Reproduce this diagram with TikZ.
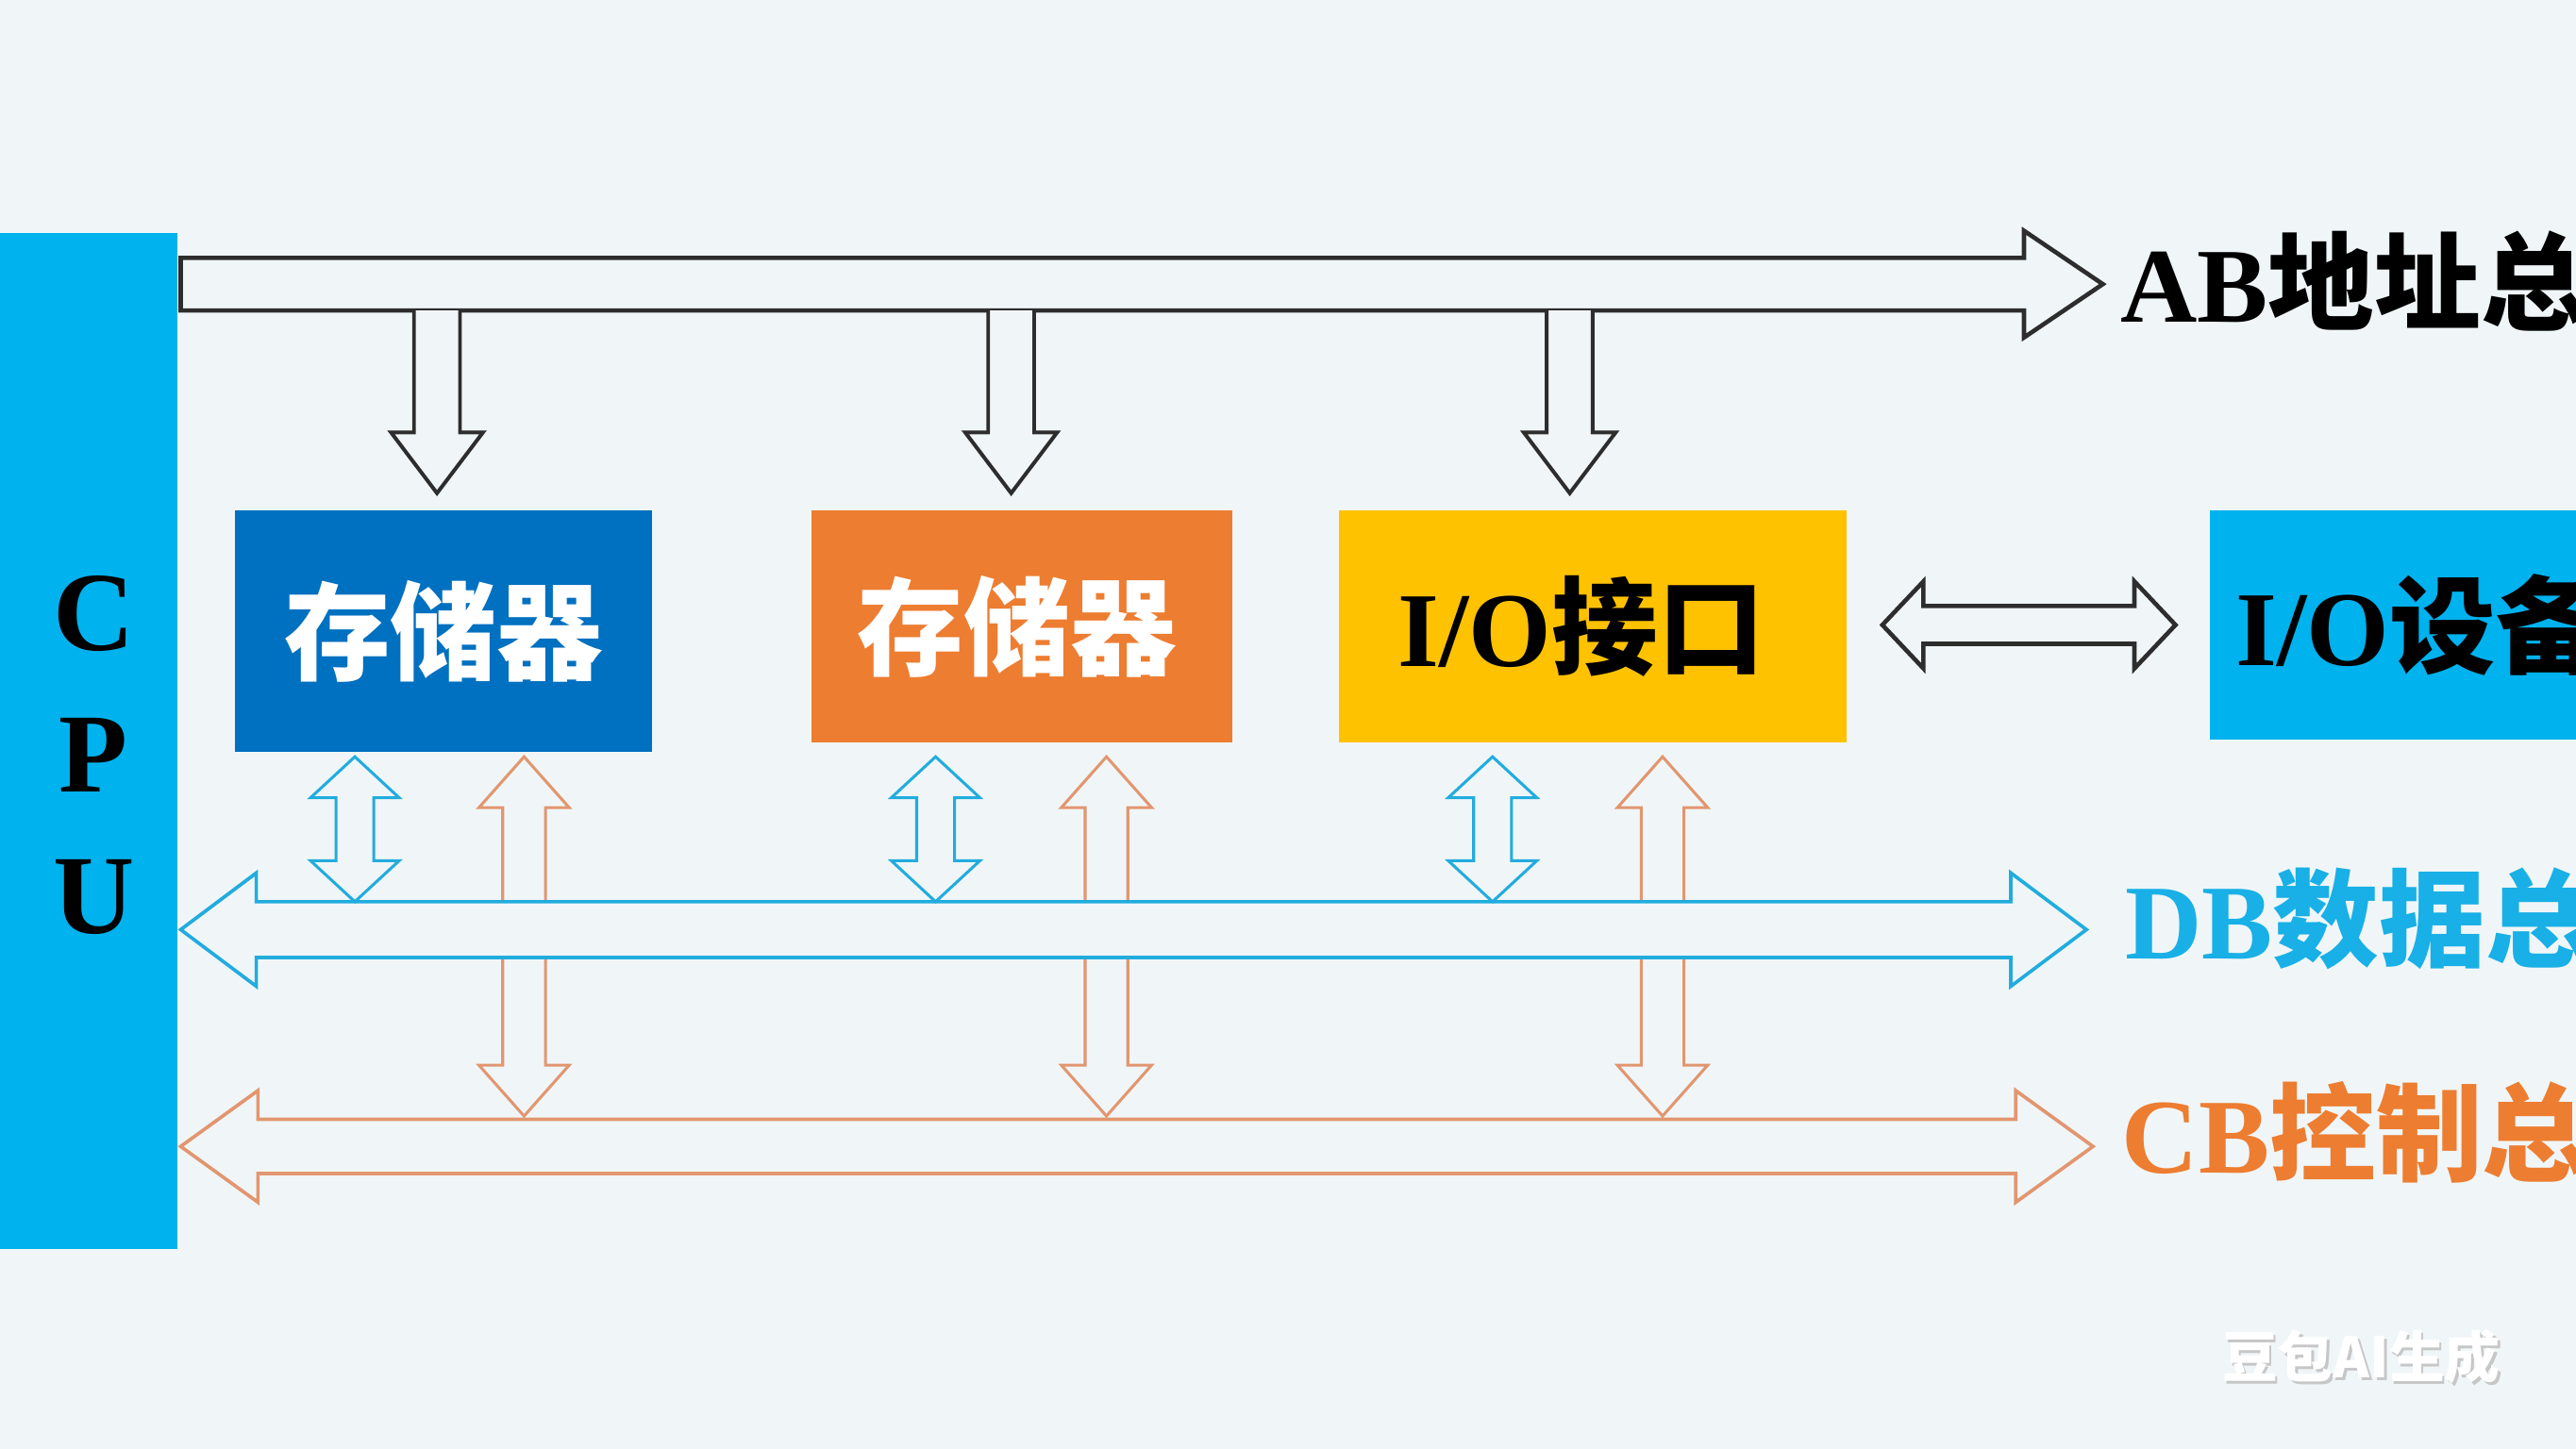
\documentclass[tikz,border=0pt]{standalone}
\usepackage{fontspec}
\setmainfont{Liberation Serif}
\newfontfamily\cjk{Noto Sans CJK SC}
\usetikzlibrary{calc}
\definecolor{bgW}{RGB}{240,246,248}
\definecolor{cpuC}{RGB}{0,178,238}
\definecolor{memB}{RGB}{0,112,192}
\definecolor{memO}{RGB}{237,125,49}
\definecolor{ioY}{RGB}{255,194,0}
\definecolor{abK}{RGB}{45,45,45}
\definecolor{dbC}{RGB}{34,172,222}
\definecolor{dbTxt}{RGB}{24,176,230}
\definecolor{cbO}{RGB}{226,150,112}

% block arrows: style, tip/end, tip, shaft half width, head half width, head length
\newcommand{\blockoneH}[6]{%
  \draw[#1] ($(#2)+(0,-#4)$) -- ($(#3)+(-#6,-#4)$) -- ++(0,#4-#5) -- (#3)
    -- ++(-#6,#5) -- ++(0,#4-#5) -- ($(#2)+(0,#4)$) -- cycle;}
\newcommand{\blockoneV}[6]{%
  \filldraw[#1] ($(#2)+(-#4,0)$) -- ($(#3)+(-#4,-#6)$) -- ++(#4-#5,0) -- (#3)
    -- ++(#5,-#6) -- ++(#4-#5,0) -- ($(#2)+(#4,0)$);}
\newcommand{\blockdblH}[6]{%
  \draw[#1] (#2) -- ++(#6,-#5) -- ++(0,#5-#4) -- ($(#3)+(-#6,-#4)$) -- ++(0,#4-#5) -- (#3)
    -- ++(-#6,#5) -- ++(0,#4-#5) -- ($(#2)+(#6,#4)$) -- ++(0,#5-#4) -- cycle;}
\newcommand{\blockdblV}[6]{%
  \draw[#1] (#2) -- ++(#5,#6) -- ++(#4-#5,0) -- ($(#3)+(#4,-#6)$) -- ++(#5-#4,0) -- (#3)
    -- ++(-#5,-#6) -- ++(#5-#4,0) -- ($(#2)+(-#4,#6)$) -- ++(#4-#5,0) -- cycle;}

\begin{document}
\begin{tikzpicture}[
  x=0.01cm, y=-0.01cm,
  big/.style={font=\fontsize{18.4}{20}\selectfont\bfseries},
  box/.style={big, inner sep=0pt, minimum height=1.41cm},
  abbus/.style={draw=abK, fill=bgW, line width=0.75pt, line join=miter},
  dbbus/.style={draw=dbC, fill=bgW, line width=0.6pt, line join=miter},
  cbbus/.style={draw=cbO, fill=bgW, line width=0.6pt, line join=miter},
  lbl/.style={big, anchor=base west, inner sep=0pt},
  mk/.style={anchor=west, inner sep=0pt, font=\fontsize{9.6}{10}\selectfont\bfseries}
]
\fill[bgW] (0,0) rectangle (1568,882);
\useasboundingbox (0,0) rectangle (1568,882);
\clip (0,0) rectangle (1568,882);

% CPU bar
\node[fill=cpuC, minimum width=1.08cm, minimum height=6.18cm, inner sep=0pt] (cpu) at (54,451) {};
\node[font=\fontsize{19.5}{24.5}\selectfont\bfseries, align=center] (cpulbl) at (57,460) {C\\P\\U};

% address bus
\coordinate (abL) at (110,173);
\coordinate (abR) at (1280,173);
\coordinate (abB) at ($(abL)+(0,16)$);
\blockoneH{abbus}{abL}{abR}{16}{32.5}{48}

% modules
\node[box, fill=memB, text=white, minimum width=2.54cm, minimum height=1.47cm] (mem1) at (270,384.5) {\cjk 存储器};
\node[box, fill=memO, text=white, minimum width=2.56cm] (mem2) at (622,381.5) {\cjk 存储器\kern0.06cm};
\node[box, fill=ioY, minimum width=3.09cm] (io) at (969.5,381.5) {I/O\cjk 接口\kern0.14cm};
\node[box, fill=cpuC, minimum width=2.55cm, minimum height=1.39cm] (dev) at (1472.5,380.5) {I/O\cjk 设备};

% address taps
\coordinate (a1) at ($(mem1.north)+(-4,-10)$);
\coordinate (a2) at ($(mem2.north)+(-6.5,-10)$);
\coordinate (a3) at ($(io.north)+(-14,-10)$);
\coordinate (a1s) at (a1 |- abB);
\coordinate (a2s) at (a2 |- abB);
\coordinate (a3s) at (a3 |- abB);
\blockoneV{abbus, line width=0.65pt}{a1s}{a1}{14}{28}{37}
\blockoneV{abbus, line width=0.65pt}{a2s}{a2}{14}{28}{37}
\blockoneV{abbus, line width=0.65pt}{a3s}{a3}{14}{28}{37}

% interface <-> device
\coordinate (iol) at ($(io.east)+(21,-1)$);
\coordinate (ior) at ($(dev.west)+(-20,0)$);
\blockdblH{abbus}{iol}{ior}{11.5}{26.5}{25}

% bus levels
\coordinate (dbL) at (110,566);
\coordinate (dbR) at (1270,566);
\coordinate (dbT) at ($(dbL)+(0,-17)$);
\coordinate (cbL) at (110,698);
\coordinate (cbR) at (1274,698);
\coordinate (cbT) at ($(cbL)+(0,-18.5)$);

% control taps
\coordinate (c1t) at ($(mem1.south)+(49,2)$);
\coordinate (c2t) at ($(mem2.south)+(51.5,8)$);
\coordinate (c3t) at ($(io.south)+(42.5,8)$);
\coordinate (c1b) at (c1t |- cbT);
\coordinate (c2b) at (c2t |- cbT);
\coordinate (c3b) at (c3t |- cbT);
\blockdblV{cbbus, line width=0.5pt}{c1t}{c1b}{13}{27.5}{31}
\blockdblV{cbbus, line width=0.5pt}{c2t}{c2b}{13}{27.5}{31}
\blockdblV{cbbus, line width=0.5pt}{c3t}{c3b}{13}{27.5}{31}

% data bus
\blockdblH{dbbus}{dbL}{dbR}{17}{34.5}{46}

% data taps
\coordinate (d1t) at ($(mem1.south)+(-54,2)$);
\coordinate (d2t) at ($(mem2.south)+(-52.5,8)$);
\coordinate (d3t) at ($(io.south)+(-61,8)$);
\coordinate (d1b) at (d1t |- dbT);
\coordinate (d2b) at (d2t |- dbT);
\coordinate (d3b) at (d3t |- dbT);
\blockdblV{dbbus, line width=0.5pt}{d1t}{d1b}{11.5}{27}{25}
\blockdblV{dbbus, line width=0.5pt}{d2t}{d2b}{11.5}{27}{25}
\blockdblV{dbbus, line width=0.5pt}{d3t}{d3b}{11.5}{27}{25}

% control bus
\blockdblH{cbbus}{cbL}{cbR}{16.5}{34}{47}

% bus names
\node[lbl] (ablbl) at (1290,196) {AB\cjk 地址总};
\node[lbl, text=dbTxt] (dblbl) at (1293,584) {DB\cjk 数据总};
\node[lbl, text=memO] (cblbl) at (1291,714) {CB\cjk 控制总};

\node[mk, text=black!22] (markshadow) at (1353.5,827.5) {\cjk 豆包AI生成};
\node[mk, text=white] (mark) at (1352,826) {\cjk 豆包AI生成};
\end{tikzpicture}
\end{document}
